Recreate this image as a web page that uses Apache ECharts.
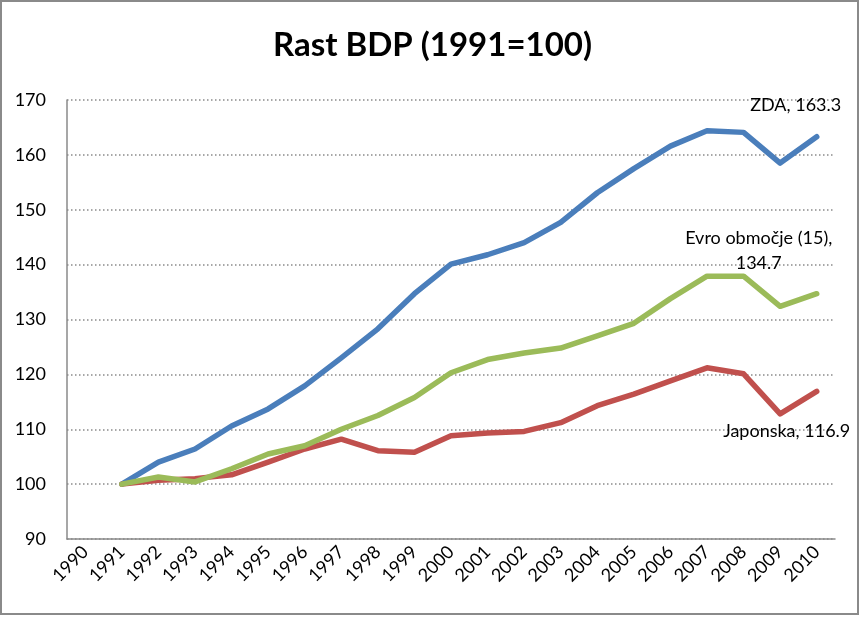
<!DOCTYPE html>
<html>
<head>
<meta charset="utf-8">
<script src="https://cdn.jsdelivr.net/npm/echarts@6/dist/echarts.min.js"></script>
<style>
html,body{margin:0;padding:0;background:#fff;}
#c{width:865px;height:618px;}
</style>
</head>
<body>
<div id="c"></div>
<script>
const years = ['1990','1991','1992','1993','1994','1995','1996','1997','1998','1999','2000','2001','2002','2003','2004','2005','2006','2007','2008','2009','2010'];
const zda = [null,100,104.0,106.4,110.6,113.7,117.9,123.0,128.3,134.7,140.1,141.8,144.0,147.7,153.1,157.5,161.6,164.4,164.1,158.5,163.3];
const japonska = [null,100,100.7,101.0,101.7,104.0,106.4,108.2,106.1,105.8,108.8,109.3,109.6,111.2,114.3,116.4,118.8,121.2,120.1,112.8,116.9];
const evro = [null,100,101.3,100.4,102.8,105.5,107.0,110.0,112.5,115.8,120.3,122.7,123.9,124.8,127.0,129.3,133.8,137.9,137.9,132.4,134.7];
const yTicks = {min:90, max:170, interval:10};

const FONT = 'Lato';

function withEndLabel(values, text, offset){
  const last = values.length - 1;
  return values.map((v,i) => i === last ? {
    value: v,
    label: {
      show: true,
      position: 'inside',
      offset: offset,
      formatter: text,
      color: '#000',
      fontFamily: FONT,
      fontSize: 18,
      lineHeight: 25,
      align: 'center',
      verticalAlign: 'middle'
    }
  } : v);
}

const chart = echarts.init(document.getElementById('c'), null, {renderer:'canvas'});
chart.setOption({
  animation: false,
  backgroundColor: '#fff',
  title: {
    text: 'Rast BDP (1991=100)',
    left: 'center',
    top: 29,
    padding: 0,
    textStyle: {fontFamily: FONT, fontWeight: 'bold', fontSize: 33, color: '#000'}
  },
  graphic: [{
    type: 'rect',
    shape: {x: 1, y: 1, width: 857, height: 613},
    style: {fill: 'none', stroke: '#8a8a8a', lineWidth: 2},
    silent: true
  }],
  grid: {left: 67, right: 30, top: 100, bottom: 79},
  xAxis: {
    type: 'category',
    data: years,
    boundaryGap: true,
    axisLine: {show: true, lineStyle: {color: '#8a8a8a', width: 1.5}},
    axisTick: {show: false},
    axisLabel: {rotate: 45, margin: 10, color: '#000', fontFamily: FONT, fontSize: 18, interval: 0},
    splitLine: {show: false}
  },
  yAxis: {
    type: 'value',
    min: yTicks.min, max: yTicks.max, interval: yTicks.interval,
    axisLine: {show: true, lineStyle: {color: '#8a8a8a', width: 1.5}},
    axisTick: {show: false},
    axisLabel: {margin: 21, color: '#000', fontFamily: FONT, fontSize: 18},
    splitLine: {show: true, lineStyle: {color: '#8a8a8a', width: 1.5, type: [1.5, 2.5]}}
  },
  series: [
    {
      name: 'ZDA', type: 'line', symbol: 'circle', symbolSize: 1, showSymbol: true,
      data: withEndLabel(zda, 'ZDA, 163.3', [-21, -32]),
      lineStyle: {color: '#4A7EBB', width: 5.5, cap: 'round', join: 'round'},
      itemStyle: {color: 'transparent', borderWidth: 0}
    },
    {
      name: 'Japonska', type: 'line', symbol: 'circle', symbolSize: 1, showSymbol: true,
      data: withEndLabel(japonska, 'Japonska, 116.9', [-30, 40]),
      lineStyle: {color: '#C0504D', width: 5.5, cap: 'round', join: 'round'},
      itemStyle: {color: 'transparent', borderWidth: 0}
    },
    {
      name: 'Evro območje (15)', type: 'line', symbol: 'circle', symbolSize: 1, showSymbol: true,
      data: withEndLabel(evro, 'Evro območje (15),\n134.7', [-58, -43]),
      lineStyle: {color: '#9BBB59', width: 5.5, cap: 'round', join: 'round'},
      itemStyle: {color: 'transparent', borderWidth: 0}
    }
  ]
});
</script>
</body>
</html>
